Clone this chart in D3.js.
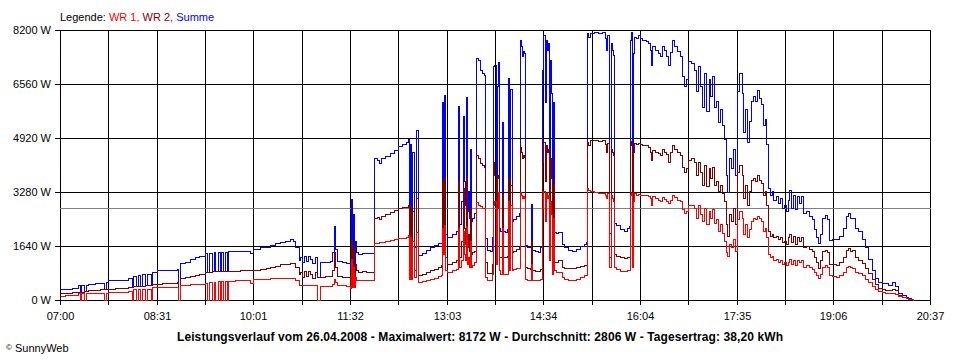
<!DOCTYPE html>
<html><head><meta charset="utf-8">
<script src="https://cdn.jsdelivr.net/npm/d3@7"></script>
<style>
body{margin:0;background:#fff;}
svg{display:block;}
text{font-family:"Liberation Sans",Arial,sans-serif;}
</style>
</head><body>
<svg id="chart" width="960" height="360"></svg>
<script>
// ---------- DATA ----------
const times = [
"07:00","07:05","07:11","07:17","07:19","07:20","07:23","07:24","07:26","07:33",
"07:38","07:41","07:43","07:45","07:52","07:58","08:04","08:08","08:09","08:11",
"08:13","08:15","08:17","08:20","08:22","08:25","08:26","08:31","08:36","08:43",
"08:50","08:51","08:53","08:57","09:02","09:07","09:11","09:16","09:18","09:20",
"09:23","09:25","09:26","09:28","09:30","09:31","09:33","09:35","09:37","09:38",
"09:44","09:49","09:54","09:58","10:01","10:08","10:13","10:17","10:22","10:27",
"10:31","10:36","10:39","10:41","10:44","10:45","10:47","10:49","10:51","10:53",
"10:55","10:57","10:59","11:01","11:02","11:04","11:09","11:14","11:15","11:17",
"11:18","11:20","11:25","11:29","11:31","11:32","11:33","11:34","11:35","11:36",
"11:37","11:38","11:40","11:44","11:47","11:51","11:54","11:55","11:58","12:00",
"12:01","12:05","12:10","12:14","12:17","12:21","12:25","12:27","12:28","12:29",
"12:30","12:31","12:32","12:34","12:36","12:40","12:44","12:47","12:51","12:55",
"12:58","12:59","13:00","13:01","13:02","13:03","13:08","13:12","13:14","13:15",
"13:17","13:18","13:19","13:20","13:21","13:22","13:23","13:24","13:25","13:26",
"13:27","13:29","13:31","13:33","13:34","13:36","13:38","13:39","13:41","13:44",
"13:46","13:47","13:48","13:49","13:50","13:51","13:52","13:53","13:55","13:56",
"13:58","14:00","14:01","14:02","14:03","14:04","14:05","14:08","14:11","14:12",
"14:13","14:14","14:15","14:16","14:17","14:19","14:21","14:22","14:23","14:26",
"14:29","14:31","14:33","14:34","14:35","14:36","14:37","14:38","14:39","14:40",
"14:41","14:42","14:43","14:44","14:46","14:48","14:51","14:53","14:57","15:01",
"15:05","15:08","15:12","15:14","15:15","15:16","15:18","15:21","15:25","15:29",
"15:32","15:33","15:34","15:36","15:37","15:38","15:39","15:40","15:42","15:46",
"15:50","15:52","15:54","15:55","15:56","15:57","15:58","15:59","16:01","16:03",
"16:05","16:07","16:10","16:12","16:14","16:15","16:16","16:19","16:22","16:23",
"16:25","16:27","16:29","16:31","16:33","16:35","16:37","16:39","16:42","16:44",
"16:46","16:48","16:50","16:53","16:55","16:57","16:59","17:01","17:03","17:05",
"17:07","17:09","17:10","17:12","17:14","17:16","17:18","17:20","17:22","17:24",
"17:25","17:26","17:28","17:30","17:32","17:34","17:36","17:38","17:40","17:41",
"17:43","17:45","17:47","17:49","17:51","17:53","17:55","17:56","17:58","18:00",
"18:02","18:03","18:05","18:07","18:09","18:10","18:12","18:14","18:16","18:18",
"18:20","18:22","18:24","18:25","18:26","18:28","18:30","18:32","18:34","18:36",
"18:38","18:41","18:43","18:46","18:48","18:50","18:52","18:54","18:56","18:58",
"19:00","19:02","19:05","19:09","19:12","19:15","19:18","19:20","19:22","19:24",
"19:27","19:29","19:33","19:36","19:39","19:43","19:45","19:48","19:52","19:55",
"19:58","20:01","20:04","20:07","20:11","20:14","20:16","20:19","20:21"
];
const wr1 = [
120,140,150,200,0,200,0,200,200,200,
200,0,210,250,250,255,260,0,320,0,
320,0,330,0,340,0,380,390,395,400,
410,0,450,470,480,490,500,530,0,560,
0,560,0,570,0,570,0,575,0,580,
600,600,600,520,640,650,650,660,660,670,
670,680,670,600,450,460,460,470,450,460,
460,450,450,0,0,430,430,430,500,650,
550,460,450,440,440,370,1260,400,1000,380,
700,600,600,620,610,600,610,1720,1740,1750,
1760,1790,1830,1850,1870,1880,1900,1970,650,1900,
650,1800,700,2075,560,590,620,650,680,740,
760,2200,1400,2280,900,850,900,950,2200,1000,
1200,2100,1400,1200,2250,1100,1300,1000,1800,1000,
1050,1150,2986,2900,2850,2800,2790,700,620,600,
800,2900,3000,1100,2800,3290,900,800,2200,800,
780,800,3000,900,2900,900,950,960,980,3290,
3200,3100,3150,3100,650,620,610,1100,610,600,
600,640,2800,3300,2400,3250,3100,3200,1200,3000,
2600,800,2500,900,860,860,700,650,610,610,
640,700,750,770,3390,3340,3300,3290,3260,3250,
3200,3100,3250,1000,3200,3100,3000,1000,950,880,
870,900,920,3200,3250,1000,3000,3240,3200,3230,
3190,3200,3180,3150,3100,2900,3150,3100,3050,3000,
3120,3080,3000,2950,3050,3200,3120,3050,3020,2750,
2650,2700,2900,2880,2800,2500,2900,2600,2400,2800,
2300,2700,2500,2750,2350,2450,2100,2300,2050,1800,
1450,1350,1700,1600,1850,1500,2450,2700,2500,2000,
2300,1900,2150,2400,2500,2450,2550,2480,2400,2100,
2200,1900,1400,1300,1350,1200,1250,1150,1200,1100,
1150,1050,1150,1250,1100,1200,1050,1200,1150,1200,
1000,1050,1000,950,850,750,660,800,1000,1060,
1000,760,720,710,760,860,1000,1030,1000,960,
860,810,760,650,560,420,320,260,230,210,
200,200,180,120,80,60,40,20,0
];
const wr2 = [
200,210,230,250,250,250,260,260,300,310,
320,320,330,345,350,360,400,410,420,420,
430,430,440,450,460,470,480,500,520,530,
540,0,680,700,730,760,790,850,860,865,
870,870,875,875,875,875,878,878,880,880,
890,900,900,910,920,950,960,1000,1040,1080,
1090,1120,1110,1000,780,850,700,880,720,870,
800,680,850,700,710,710,715,720,900,1470,
1000,720,710,700,690,560,1820,600,1600,580,
1100,900,850,870,860,850,860,2480,2530,2450,
2560,2620,2680,2740,2800,2810,2830,2890,880,2850,
880,2700,900,3088,760,800,850,900,950,1000,
1060,3600,2200,3750,1300,1100,1150,1200,3600,1300,
1800,3400,2200,1700,3700,1600,2000,1500,2800,1400,
1450,1500,4400,4300,4150,4100,4050,1160,820,810,
1100,4200,3800,1500,3700,3800,1300,1300,3200,1300,
1300,1350,3700,1400,3500,1450,1500,1550,1600,4650,
4500,4300,4400,4350,1000,960,940,1800,900,880,
880,950,4200,4800,3600,4700,4500,4600,2000,4300,
3700,1200,3500,1160,1160,1215,1000,960,960,980,
1000,1040,1060,1070,4800,4700,4850,4860,4820,4850,
4750,4500,4780,1300,4600,4500,4400,1400,1350,1300,
1280,1300,1300,4700,4820,1400,4500,4760,4750,4760,
4740,4720,4700,4640,4500,4250,4550,4500,4450,4400,
4600,4500,4420,4200,4480,4710,4600,4500,4400,4050,
3900,4000,4250,4300,4200,3800,4200,3900,3500,4100,
3450,4000,3700,4050,3500,3600,3300,3500,3250,3000,
2300,1950,2600,2400,2800,2300,3900,4100,3800,3100,
3500,2900,3300,3650,3700,3600,3800,3650,3550,3200,
3300,2900,2100,1950,2000,1900,1950,1850,1900,1750,
1800,1700,1900,2000,1750,1950,1700,1900,1800,1900,
1600,1650,1550,1500,1300,1150,960,1200,1500,1520,
1450,1100,1080,1060,1150,1300,1520,1570,1500,1520,
1300,1215,1110,960,810,640,500,350,320,310,
300,320,300,150,100,60,40,20,0
];
const summe = [
320,340,350,450,250,450,260,460,500,520,
530,320,540,600,610,620,660,420,740,430,
760,440,780,460,800,470,860,900,910,920,
940,0,1130,1150,1250,1300,1350,1420,860,1440,
870,1450,880,1460,875,1460,878,1470,880,1480,
1500,1500,1490,1430,1560,1600,1600,1660,1720,1760,
1780,1840,1790,1600,1230,1310,1160,1350,1170,1330,
1260,1130,1300,700,710,1160,1160,1170,1470,2250,
1550,1180,1150,1130,1120,930,3080,1000,2600,960,
1800,1450,1400,1440,1440,1420,1440,4300,4250,4150,
4300,4380,4450,4560,4680,4740,4790,4900,1530,4750,
1500,4500,1600,5160,1380,1440,1520,1600,1660,1720,
1740,6000,3600,6230,2000,1920,2000,2100,5900,2300,
3000,5600,3600,2900,6170,2700,3300,2500,4600,2400,
2500,2650,7340,7300,7000,6900,6830,1870,1520,1500,
1900,7100,7140,2600,6500,7240,2200,2100,5400,2100,
2080,2150,6730,2300,6400,2400,2450,2550,2650,7900,
7700,7400,7550,7500,1670,1620,1600,2930,1520,1480,
1470,1600,7000,8050,6000,7900,7600,7800,3200,7300,
6300,2000,6000,2075,2050,2075,1700,1620,1520,1500,
1560,1640,1700,1750,8100,8000,8100,8150,8100,8150,
7950,7600,8050,2050,7800,7600,7450,2330,2280,2150,
2100,2180,2250,7900,8150,2400,7500,8000,7950,8050,
7950,7900,7860,7800,7600,7140,7700,7600,7500,7400,
7720,7580,7420,7140,7530,7900,7720,7550,7420,6800,
6500,6700,7250,7200,7000,6350,7100,6500,5850,6900,
5750,6700,6200,6800,5850,6050,5400,5800,5300,4900,
3800,3290,4300,4000,4600,3800,6350,6880,6300,5100,
5800,4800,5450,6050,6200,6050,6380,6150,5950,5300,
5500,4750,3400,3200,3300,3050,3150,2950,3100,2800,
2900,2700,3050,3340,2800,3200,2750,3150,2950,3150,
2650,2700,2550,2450,2150,1900,1720,2000,2500,2580,
2450,1820,1850,1850,1950,2200,2550,2640,2500,2480,
2200,2100,1850,1600,1250,900,660,560,530,510,
460,560,420,210,150,100,60,40,0
];
const yTicks = [0, 1640, 3280, 4920, 6560, 8200];
const xTickLabels = ["07:00","08:31","10:01","11:32","13:03","14:34","16:04","17:35","19:06","20:37"];
const averageW = 2806;
const legendLabels = ["WR 1,", "WR 2,", "Summe"];
const titleText = "Leistungsverlauf vom 26.04.2008 - Maximalwert: 8172 W - Durchschnitt: 2806 W - Tagesertrag: 38,20 kWh";

// ---------- CHART ----------
(function () {
const colors = {wr1: "#ff0000", wr2: "#800000", summe: "#0000ff"};
const svg = d3.select("#chart");
const parseT = s => { const p = s.split(":").map(Number); return p[0] * 60 + p[1]; };
const tMin = parseT(xTickLabels[0]);
const tMax = parseT(xTickLabels[xTickLabels.length - 1]);
const pLeft = 60, pRight = 930, pTop = 30, pBottom = 300;

const x = d3.scaleLinear().domain([tMin, tMax]).range([pLeft, pRight]).interpolate(d3.interpolateRound);
const y = d3.scaleLinear().domain([0, 8200]).range([pBottom, pTop]).interpolate(d3.interpolateRound);
const nGrid = (xTickLabels.length - 1) * 2;
const gridT = d3.range(nGrid + 1).map(i => tMin + i * (tMax - tMin) / nGrid);

const grid = svg.append("g").attr("shape-rendering", "crispEdges");
grid.selectAll("line.h").data(yTicks).join("line").attr("class", "h")
  .attr("x1", pLeft).attr("x2", pRight + 1)
  .attr("y1", d => y(d) + 0.5).attr("y2", d => y(d) + 0.5)
  .attr("stroke", "#000");
grid.selectAll("line.v").data(gridT).join("line").attr("class", "v")
  .attr("x1", d => x(d) + 0.5).attr("x2", d => x(d) + 0.5)
  .attr("y1", pTop).attr("y2", pBottom + 1)
  .attr("stroke", "#000");

// average line
grid.append("line")
  .attr("x1", pLeft).attr("x2", pRight + 1)
  .attr("y1", y(averageW) + 0.5).attr("y2", y(averageW) + 0.5)
  .attr("stroke", "#808080");

// series
const rows = times.map((t, i) => ({t: parseT(t), wr1: wr1[i], wr2: wr2[i], summe: summe[i]}));
const mkLine = key => d3.line()
  .x(d => x(d.t) + 0.5)
  .y(d => y(d[key]) + 0.5)
  .curve(d3.curveStepAfter);
["summe", "wr2", "wr1"].forEach(key => {
  svg.append("path").datum(rows)
    .attr("d", mkLine(key))
    .attr("fill", "none")
    .attr("stroke", colors[key])
    .attr("stroke-width", 1)
    .attr("shape-rendering", "crispEdges");
});

// axes
const yAxis = svg.append("g").attr("transform", `translate(${pLeft},0)`)
  .call(d3.axisLeft(y).tickValues(yTicks).tickFormat(d => d + " W").tickSize(5).tickSizeOuter(0).tickPadding(4));
yAxis.select(".domain").remove();
const xAxis = svg.append("g").attr("transform", `translate(0,${pBottom})`)
  .call(d3.axisBottom(x).tickValues(gridT)
    .tickFormat((d, i) => i % 2 ? "" : xTickLabels[i / 2])
    .tickSize(5).tickSizeOuter(0).tickPadding(7));
xAxis.select(".domain").remove();
[yAxis, xAxis].forEach(g => {
  g.attr("font-family", "'Liberation Sans', Arial, sans-serif").attr("font-size", 11);
  g.selectAll("line").attr("stroke", "#000").attr("shape-rendering", "crispEdges");
  g.selectAll("text").attr("fill", "#000");
});

// legend
const leg = svg.append("text").attr("x", 60).attr("y", 21).attr("font-size", 11);
leg.append("tspan").text("Legende: ").attr("fill", "#000");
const legColors = [colors.wr1, colors.wr2, colors.summe];
legendLabels.forEach((l, i) => {
  leg.append("tspan").text(l + (i < legendLabels.length - 1 ? " " : "")).attr("fill", legColors[i]);
});

// title
svg.append("text").attr("x", 480).attr("y", 341).attr("text-anchor", "middle")
  .attr("font-size", 12).attr("font-weight", "bold").attr("fill", "#000")
  .attr("textLength", 606).attr("lengthAdjust", "spacing").text(titleText);

// copyright
const cp = svg.append("text").attr("x", 6).attr("y", 352).attr("font-size", 11).attr("fill", "#000");
cp.append("tspan").text("©").attr("font-size", 8).attr("dy", -2);
cp.append("tspan").text(" SunnyWeb").attr("dy", 2);
})();
</script>
</body></html>
